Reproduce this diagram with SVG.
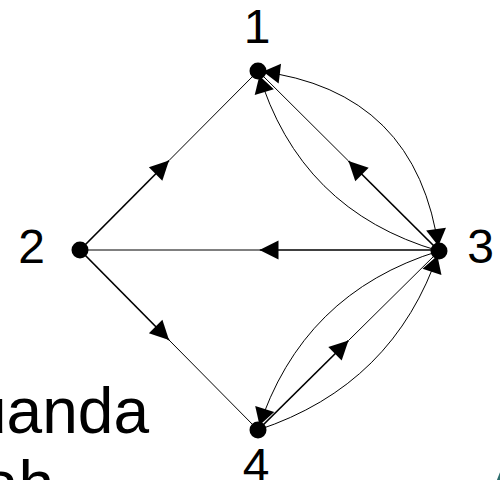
<svg xmlns="http://www.w3.org/2000/svg" width="500" height="480" viewBox="0 0 500 480">
  <style>
    .lbl { font-family: "Liberation Sans", Arial, sans-serif; font-size: 48px; fill: #000; text-anchor: middle; }
    .big { font-family: "Liberation Sans", Arial, sans-serif; font-size: 64px; fill: #000; }
    .dot { fill: #000; }
    .thin { fill: none; stroke: #000; stroke-width: 1; }
    .thick { fill: none; stroke: #000; stroke-width: 1.7; }
    .curve { fill: none; stroke: #000; stroke-width: 1; }
  </style>
  <defs>
    <!-- arrowhead placed on the middle of a straight edge (tip on the vertex) -->
    <marker id="midArrow" markerUnits="userSpaceOnUse" markerWidth="20" markerHeight="20" refX="19" refY="9.5" orient="auto" overflow="visible">
      <path d="M0,0 L19,9.5 L0,19 z" fill="#000"/>
    </marker>
    <!-- arrowhead at a node, tip set back slightly from the node centre -->
    <marker id="endArrow" markerUnits="userSpaceOnUse" markerWidth="24" markerHeight="22" refX="22" refY="10" orient="auto-start-reverse" overflow="visible">
      <path d="M0,0 L17,10 L0,20 z" fill="#000"/>
    </marker>
  </defs>

  <!-- big caption fragments -->
  <text class="big" x="-29" y="433">uanda</text>
  <text class="big" x="-17" y="506">ah</text>
  <text class="big" x="482" y="517" style="fill:#2e6e6e">A</text>

  <g id="connectors">
    <!-- 2 -> 1 -->
    <path class="thick" d="M80,250 L169,160.5" marker-end="url(#midArrow)"/>
    <path class="thin" d="M169,160.5 L258,71"/>
    <!-- 2 -> 4 -->
    <path class="thick" d="M80,250 L169,340" marker-end="url(#midArrow)"/>
    <path class="thin" d="M169,340 L258,430"/>
    <!-- 3 -> 2 -->
    <path class="thick" d="M439,250 L259.5,250" marker-end="url(#midArrow)"/>
    <path class="thin" d="M259.5,250 L80,250"/>
    <!-- 3 -> 1 -->
    <path class="thick" d="M439,251 L348.5,161" marker-end="url(#midArrow)"/>
    <path class="thin" d="M348.5,161 L258,71"/>
    <!-- 4 -> 3 -->
    <path class="thick" d="M258,430 L348.5,340.5" marker-end="url(#midArrow)"/>
    <path class="thin" d="M348.5,340.5 L439,251"/>

    <!-- curved edges between 1 and 3 -->
    <path class="curve" d="M258,71 Q417.5,90.5 439,251" marker-start="url(#endArrow)" marker-end="url(#endArrow)"/>
    <path class="curve" d="M439,251 Q299.5,210.5 258,71" marker-end="url(#endArrow)"/>
    <!-- curved edges between 3 and 4 -->
    <path class="curve" d="M439,251 Q302,293 258,430" marker-end="url(#endArrow)"/>
    <path class="curve" d="M258,430 Q394,385 439,251" marker-end="url(#endArrow)"/>
  </g>

  <g id="node-1">
    <circle class="dot" cx="258" cy="71" r="8.5"/>
    <text class="lbl" x="257" y="43">1</text>
  </g>
  <g id="node-2">
    <circle class="dot" cx="80" cy="250" r="8.5"/>
    <text class="lbl" x="31.5" y="263">2</text>
  </g>
  <g id="node-3">
    <circle class="dot" cx="439" cy="251" r="8.5"/>
    <text class="lbl" x="480.5" y="263">3</text>
  </g>
  <g id="node-4">
    <circle class="dot" cx="258" cy="430" r="8.5"/>
    <text class="lbl" x="256" y="482">4</text>
  </g>
</svg>
